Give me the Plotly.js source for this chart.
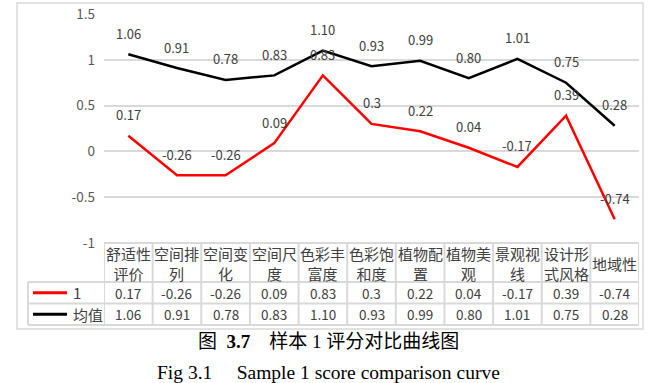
<!DOCTYPE html>
<html>
<head>
<meta charset="utf-8">
<script src="https://cdn.plot.ly/plotly-3.0.1.min.js"></script>
<style>html,body{margin:0;padding:0;background:#fff;}#chart{width:663px;height:383px;}</style>
</head>
<body>
<div id="chart"></div>
<script>
// ---- data ----
var categories = ['舒适性评价','空间排列','空间变化','空间尺度','色彩丰富度','色彩饱和度','植物配置','植物美观','景观视线','设计形式风格','地域性'];
var headerLabels = ['舒适性<br>评价','空间排<br>列','空间变<br>化','空间尺<br>度','色彩丰<br>富度','色彩饱<br>和度','植物配<br>置','植物美<br>观','景观视<br>线','设计形<br>式风格','地域性'];
var seriesNames = ['1','均值'];
var sample1 = [0.17,-0.26,-0.26,0.09,0.83,0.3,0.22,0.04,-0.17,0.39,-0.74];
var sample1Labels = ['0.17','-0.26','-0.26','0.09','0.83','0.3','0.22','0.04','-0.17','0.39','-0.74'];
var meanVals = [1.06,0.91,0.78,0.83,1.10,0.93,0.99,0.80,1.01,0.75,0.28];
var meanLabels = ['1.06','0.91','0.78','0.83','1.10','0.93','0.99','0.80','1.01','0.75','0.28'];
var yTicks = [-1,-0.5,0,0.5,1,1.5];
var yTickText = ['-1','-0.5','0','0.5','1','1.5'];
var captionCN = '图&nbsp;&nbsp;<b>3.7</b>&nbsp;&nbsp;&nbsp;&nbsp;样本 1 评分对比曲线图';
var captionEN = 'Fig 3.1&nbsp;&nbsp;&nbsp;&nbsp;&nbsp;Sample 1 score comparison curve';

// ---- layout helpers ----
var W = 663, H = 383;
function px(x){ return x / W; }
function py(y){ return 1 - y / H; }
var FONT = '"Noto Sans CJK SC", "Noto Sans", sans-serif';
var GRID = '#d9d9d9';
var TXT = '#404040';
var RED = '#ff0000', BLACK = '#000000';

var idx = categories.map(function(_, i){ return i; });

var traces = [
  {x: idx, y: sample1, type: 'scatter', mode: 'lines', line: {color: RED, width: 2.5}, hoverinfo: 'skip', showlegend: false},
  {x: idx, y: meanVals, type: 'scatter', mode: 'lines', line: {color: BLACK, width: 2.5}, hoverinfo: 'skip', showlegend: false}
];

var annotations = [];
var shapes = [];

// data labels
sample1.forEach(function(v, i){
  annotations.push({x: i, y: v, xref: 'x', yref: 'y', text: sample1Labels[i], showarrow: false, yshift: 21,
    font: {family: FONT, size: 13, color: TXT}});
});
meanVals.forEach(function(v, i){
  annotations.push({x: i, y: v, xref: 'x', yref: 'y', text: meanLabels[i], showarrow: false, yshift: 21,
    font: {family: FONT, size: 13, color: TXT}});
});

// table geometry (pixels)
var tTop = 243, tHead = 282, tRow1 = 303.5, tBot = 325, legLeft = 28, tLeft = 104, tRight = 639;

// table header cells
headerLabels.forEach(function(t, i){
  annotations.push({x: i, y: py((tTop + tHead) / 2 + 0.5), xref: 'x', yref: 'paper', text: t, showarrow: false,
    font: {family: FONT, size: 15, color: TXT}, yanchor: 'middle'});
});
// value cells
sample1Labels.forEach(function(t, i){
  annotations.push({x: i, y: py((tHead + tRow1) / 2), xref: 'x', yref: 'paper', text: t, showarrow: false,
    font: {family: FONT, size: 13.5, color: TXT}, yanchor: 'middle'});
});
meanLabels.forEach(function(t, i){
  annotations.push({x: i, y: py((tRow1 + tBot) / 2), xref: 'x', yref: 'paper', text: t, showarrow: false,
    font: {family: FONT, size: 13.5, color: TXT}, yanchor: 'middle'});
});
// legend cells
var legColors = [RED, BLACK];
var rowCenters = [(tHead + tRow1) / 2, (tRow1 + tBot) / 2];
seriesNames.forEach(function(n, k){
  shapes.push({type: 'line', xref: 'paper', yref: 'paper', x0: px(33), x1: px(67), y0: py(rowCenters[k]), y1: py(rowCenters[k]),
    line: {color: legColors[k], width: 3}});
  annotations.push({x: px(71), y: py(rowCenters[k]), xref: 'paper', yref: 'paper', text: n, showarrow: false,
    xanchor: 'left', yanchor: 'middle', font: {family: FONT, size: 15, color: TXT}});
});

// table grid lines
for (var i = 0; i <= categories.length; i++) {
  shapes.push({type: 'line', xref: 'x', yref: 'paper', x0: i - 0.5, x1: i - 0.5, y0: py(tTop), y1: py(tBot),
    line: {color: GRID, width: 2}});
}
shapes.push({type: 'line', xref: 'paper', yref: 'paper', x0: px(legLeft), x1: px(legLeft), y0: py(tHead), y1: py(tBot), line: {color: GRID, width: 2}});
shapes.push({type: 'line', xref: 'paper', yref: 'paper', x0: px(tLeft), x1: px(tRight), y0: py(tTop), y1: py(tTop), line: {color: GRID, width: 2}});
[tHead, tRow1, tBot].forEach(function(yy){
  shapes.push({type: 'line', xref: 'paper', yref: 'paper', x0: px(legLeft), x1: px(tRight), y0: py(yy), y1: py(yy), line: {color: GRID, width: 2}});
});
// outer chart border
shapes.push({type: 'rect', xref: 'paper', yref: 'paper', x0: px(17), x1: px(643), y0: py(329), y1: py(3), line: {color: GRID, width: 1.5}, layer: 'below'});

// captions
annotations.push({x: px(328), y: py(341), xref: 'paper', yref: 'paper', text: captionCN, showarrow: false, yanchor: 'middle',
  font: {family: '"Liberation Serif", "Noto Sans CJK SC", serif', size: 19, color: '#000'}});
annotations.push({x: px(328), y: py(372), xref: 'paper', yref: 'paper', text: captionEN, showarrow: false, yanchor: 'middle',
  font: {family: '"Liberation Serif", serif', size: 19.5, color: '#000'}});

var layout = {
  width: W, height: H,
  margin: {l: 0, r: 0, t: 0, b: 0, pad: 0},
  paper_bgcolor: '#fff', plot_bgcolor: '#fff',
  showlegend: false,
  xaxis: {domain: [px(tLeft), px(tRight)], range: [-0.5, categories.length - 0.5], showgrid: false, zeroline: false,
    showticklabels: false, showline: false, ticks: '', fixedrange: true},
  yaxis: {domain: [py(tTop), py(14)], range: [-1, 1.5], tickvals: yTicks, ticktext: yTickText, showgrid: true,
    gridcolor: GRID, gridwidth: 2, zeroline: false, showline: false, ticks: '', ticklabelstandoff: 8,
    tickfont: {family: FONT, size: 13.5, color: '#595959'}, fixedrange: true},
  shapes: shapes,
  annotations: annotations
};

Plotly.newPlot('chart', traces, layout, {staticPlot: true, displayModeBar: false});
</script>
</body>
</html>
